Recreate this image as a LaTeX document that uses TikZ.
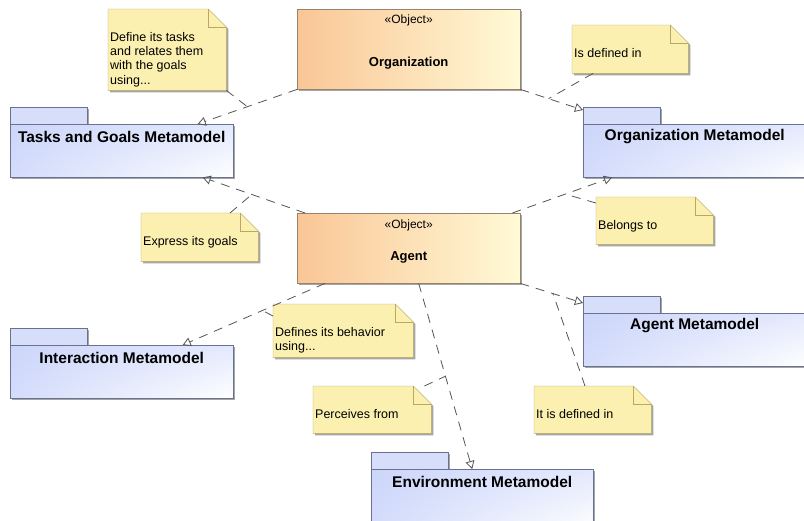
\documentclass[tikz,border=0pt]{standalone}
\usepackage{fontspec}
\setmainfont{Liberation Sans}
\usetikzlibrary{arrows.meta,positioning,calc,shadows,shadings}
\definecolor{objOrange}{RGB}{250,198,150}
\definecolor{objCream}{RGB}{255,250,214}
\definecolor{objLine}{RGB}{150,132,112}
\definecolor{pkgBlue}{RGB}{204,214,250}
\definecolor{pkgTab}{RGB}{214,222,250}
\definecolor{pkgLine}{RGB}{105,115,145}
\definecolor{noteFill}{RGB}{251,240,176}
\definecolor{noteLine}{RGB}{185,168,100}
\definecolor{shadowGray}{RGB}{165,165,165}
\definecolor{depGray}{RGB}{85,85,85}

\begin{document}
\begin{tikzpicture}[x=1pt,y=-1pt,
  obj/.style={draw=objLine,left color=objOrange,right color=objCream,anchor=north west,inner sep=0pt,
    minimum width=223pt,drop shadow={shadow xshift=2pt,shadow yshift=-2pt,fill=shadowGray,opacity=1}},
  stereo/.style={inner sep=0pt,font=\fontsize{12}{14}\selectfont},
  objname/.style={inner sep=0pt,font=\fontsize{13}{15}\selectfont\bfseries},
  pkgtab/.style={draw=pkgLine,fill=pkgTab,anchor=north west,inner sep=0pt,minimum width=77pt,minimum height=17pt,
    drop shadow={shadow xshift=2pt,shadow yshift=-2pt,fill=shadowGray,opacity=1}},
  pkgbody/.style={draw=pkgLine,anchor=north west,inner sep=0pt,minimum width=223pt,minimum height=53pt,
    upper left=pkgBlue,lower left=pkgBlue!85!white,upper right=pkgBlue!55!white,lower right=white,
    drop shadow={shadow xshift=2pt,shadow yshift=-2pt,fill=shadowGray,opacity=1}},
  pkgname/.style={inner sep=0pt,font=\fontsize{15.5}{17}\selectfont\bfseries},
  note/.style={anchor=north west,inner sep=0pt,minimum width=117pt,minimum height=47pt},
  notetext/.style={anchor=north west,inner sep=0pt,align=left,font=\fontsize{12.5}{14.3}\selectfont},
  dep/.style={depGray,line width=0.8pt,dash pattern=on 9pt off 7pt,-{Triangle[open,length=8pt,width=9pt]}},
  noteline/.style={depGray,line width=0.8pt,dash pattern=on 9pt off 7pt}
]
\path[use as bounding box,fill=white] (0,0) rectangle (804,520);

% objects
\node[obj,minimum height=80pt] (org) at (297,9) {};
\node[stereo] (orgStereo) at ([yshift=-11pt]org.north) {«Object»};
\node[objname] (orgName) at ([yshift=26pt]org.south) {Organization};
\node[obj,minimum height=70pt] (agent) at (297,213) {};
\node[stereo] (agentStereo) at ([yshift=-12pt]agent.north) {«Object»};
\node[objname] (agentName) at ([yshift=26pt]agent.south) {Agent};

% metamodel packages
\node[pkgtab] (tasksTab) at (10,107) {};
\node[pkgbody] (tasksBody) at (10,124) {};
\node[pkgname] (tasksName) at ([yshift=-13pt]tasksBody.north) {Tasks and Goals Metamodel};
\node[pkgtab] (orgTab) at (583,107) {};
\node[pkgbody] (orgBody) at (583,124) {};
\node[pkgname] (orgMmName) at ([yshift=-13pt]orgBody.north) {Organization Metamodel};
\node[pkgtab] (agentTab) at (583,296) {};
\node[pkgbody] (agentBody) at (583,313) {};
\node[pkgname] (agentMmName) at ([yshift=-13pt]agentBody.north) {Agent Metamodel};
\node[pkgtab] (interTab) at (10,328) {};
\node[pkgbody] (interBody) at (10,345) {};
\node[pkgname] (interName) at ([yshift=-13pt]interBody.north) {Interaction Metamodel};
\node[pkgtab] (envTab) at (371,452) {};
\node[pkgbody,minimum width=222pt,minimum height=62pt] (envBody) at (371,469) {};
\node[pkgname] (envName) at ([yshift=-13pt]envBody.north) {Environment Metamodel};

% notes
\node[note,minimum width=118pt,minimum height=81pt] (noteTasks) at (108,9) {};
\node[note,minimum width=116pt,minimum height=48pt] (noteOrgDef) at (572,25) {};
\node[note,minimum height=48pt] (noteGoals) at (141,213) {};
\node[note] (noteBelongs) at (596,197) {};
\node[note,minimum width=140pt,minimum height=53pt] (noteBehav) at (273,304) {};
\node[note,minimum width=118pt] (notePerceive) at (313,386) {};
\node[note] (noteAgentDef) at (534,386) {};
\foreach \n in {noteTasks,noteOrgDef,noteGoals,noteBelongs,noteBehav,notePerceive,noteAgentDef}{
  \fill[shadowGray] ([shift={(2pt,-2pt)}]\n.north west) -- ([shift={(-16pt,-2pt)}]\n.north east)
    -- ([shift={(2pt,-20pt)}]\n.north east) -- ([shift={(2pt,-2pt)}]\n.south east)
    -- ([shift={(2pt,-2pt)}]\n.south west) -- cycle;
  \filldraw[fill=noteFill,draw=noteLine] (\n.north west) -- ([xshift=-18pt]\n.north east)
    -- ([yshift=-18pt]\n.north east) -- (\n.south east) -- (\n.south west) -- cycle;
  \draw[noteLine] ([xshift=-18pt]\n.north east) |- ([yshift=-18pt]\n.north east);
}
\node[notetext] (noteTasksText) at ([shift={(2pt,-23pt)}]noteTasks.north west) {Define its tasks\\and relates them\\with the goals\\using...};
\node[notetext] (noteOrgDefText) at ([shift={(2pt,-23pt)}]noteOrgDef.north west) {Is defined in};
\node[notetext] (noteGoalsText) at ([shift={(2pt,-23pt)}]noteGoals.north west) {Express its goals};
\node[notetext] (noteBelongsText) at ([shift={(2pt,-23pt)}]noteBelongs.north west) {Belongs to};
\node[notetext] (noteBehavText) at ([shift={(2pt,-23pt)}]noteBehav.north west) {Defines its behavior\\using...};
\node[notetext] (notePerceiveText) at ([shift={(2pt,-23pt)}]notePerceive.north west) {Perceives from};
\node[notetext] (noteAgentDefText) at ([shift={(2pt,-23pt)}]noteAgentDef.north west) {It is defined in};

% dependencies
\draw[dep] (org.south west) -- coordinate[pos=0.5] (tasksBend) ([xshift=76pt]tasksBody.north);
\draw[dep] (org.south east) -- coordinate[pos=0.45] (orgDefBend) ([yshift=-3pt]orgTab.north west);
\draw[dep] ([xshift=8pt]agent.north west) -- coordinate[pos=0.52] (goalsBend) ([xshift=81pt]tasksBody.south);
\draw[dep] ([xshift=-8pt]agent.north east) -- coordinate[pos=0.53] (belongsBend) ([xshift=29pt]orgBody.south west);
\draw[dep] (agent.south east) -- coordinate[pos=0.52] (agentDefBend) ([yshift=-7pt]agentTab.north west);
\draw[dep] ([xshift=10pt]agent.south) -- coordinate[pos=0.5] (perceiveBend) ([xshift=-10pt]envBody.north);
\draw[dep] ([xshift=28pt]agent.south west) -- coordinate[pos=0.44] (behavBend) ([xshift=61pt]interBody.north);

% note anchors
\draw[noteline] (noteTasks.south east) -- (tasksBend);
\draw[noteline] ([xshift=21pt]noteOrgDef.south west) -- (orgDefBend);
\draw[noteline] ([xshift=89pt]noteGoals.north west) -- (goalsBend);
\draw[noteline] ([yshift=-6pt]noteBelongs.north west) -- (belongsBend);
\draw[noteline] ([xshift=51pt]noteAgentDef.north west) -- (agentDefBend);
\draw[noteline] ([xshift=-7pt]notePerceive.north east) -- (perceiveBend);
\draw[noteline] ([yshift=-12pt]noteBehav.north west) -- (behavBend);
\end{tikzpicture}
\end{document}
